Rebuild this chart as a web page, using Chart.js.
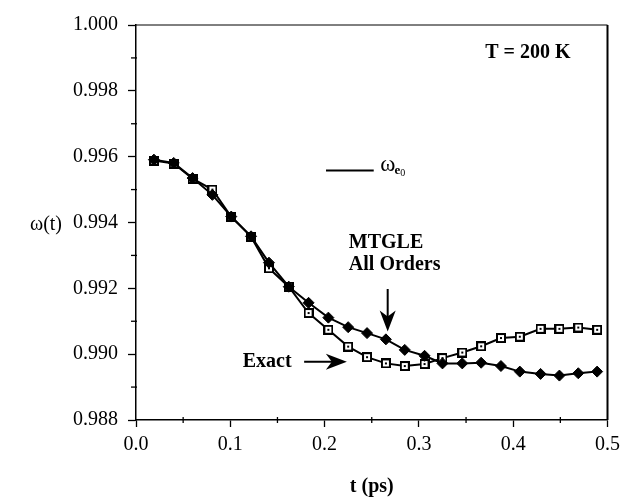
<!DOCTYPE html>
<html>
<head>
<meta charset="utf-8">
<script src="https://cdn.jsdelivr.net/npm/chart.js@4.4.0/dist/chart.umd.min.js"></script>
<style>
  html, body { margin: 0; padding: 0; background: #fff; }
</style>
</head>
<body>
<canvas id="chart" width="626" height="499"></canvas>
<script>
// t (ps) of each computed point
const times = [0.019, 0.040, 0.060, 0.081, 0.101, 0.122, 0.141, 0.162, 0.183, 0.204,
               0.225, 0.245, 0.265, 0.285, 0.306, 0.325, 0.346, 0.366, 0.387, 0.407,
               0.429, 0.449, 0.469, 0.489];
// MTGLE, all orders (filled diamonds)
const mtgle = [0.99591, 0.99581, 0.99535, 0.99484, 0.99418, 0.99358, 0.99278, 0.99205,
               0.99156, 0.99111, 0.99082, 0.99064, 0.99045, 0.99013, 0.98995, 0.98972,
               0.98972, 0.98974, 0.98964, 0.98947, 0.98940, 0.98935, 0.98942, 0.98947];
// exact (open squares)
const exact = [0.99588, 0.99579, 0.99533, 0.99500, 0.99417, 0.99357, 0.99261, 0.99205,
               0.99125, 0.99074, 0.99023, 0.98991, 0.98972, 0.98964, 0.98970, 0.98988,
               0.99005, 0.99024, 0.99049, 0.99053, 0.99077, 0.99077, 0.99081, 0.99074];

const serif = 'Liberation Serif';

function squareMarker() {
  const c = document.createElement('canvas');
  c.width = 10; c.height = 10;
  const g = c.getContext('2d');
  g.fillStyle = '#fff';
  g.fillRect(0, 0, 10, 10);
  g.strokeStyle = '#000';
  g.lineWidth = 2;
  g.strokeRect(1, 1, 8, 8);
  g.fillStyle = '#000';
  g.fillRect(4, 4, 2, 2);
  return c;
}

function pts(ys) {
  return times.map((t, i) => ({ x: t, y: ys[i] }));
}

// minor ticks half way between the major ones, plus the box and notes
const decorations = {
  id: 'decorations',
  afterDraw(chart) {
    const ctx = chart.ctx;
    const area = chart.chartArea;
    const xs = chart.scales.x, ys = chart.scales.y;
    ctx.save();
    ctx.strokeStyle = '#000';
    ctx.lineWidth = 1.3;
    const xt = xs.ticks;
    for (let i = 0; i < xt.length - 1; i++) {
      const px = xs.getPixelForValue((xt[i].value + xt[i + 1].value) / 2);
      ctx.beginPath(); ctx.moveTo(px, area.bottom - 3); ctx.lineTo(px, area.bottom + 3); ctx.stroke();
    }
    const yt = ys.ticks;
    for (let i = 0; i < yt.length - 1; i++) {
      const py = ys.getPixelForValue((yt[i].value + yt[i + 1].value) / 2);
      ctx.beginPath(); ctx.moveTo(area.left - 5, py); ctx.lineTo(area.left + 1, py); ctx.stroke();
    }
    // top and right edges of the frame
    ctx.lineWidth = 1;
    ctx.beginPath(); ctx.moveTo(area.left, area.top); ctx.lineTo(area.right, area.top); ctx.stroke();
    ctx.lineWidth = 2;
    ctx.beginPath(); ctx.moveTo(area.right, area.top); ctx.lineTo(area.right, area.bottom); ctx.stroke();

    const X = v => xs.getPixelForValue(v);
    const Y = v => ys.getPixelForValue(v);
    ctx.fillStyle = '#000';
    ctx.textBaseline = 'middle';

    ctx.font = 'bold 20px ' + serif;
    ctx.textAlign = 'center';
    ctx.fillText('T = 200 K', X(0.4156), Y(0.99916));

    ctx.textAlign = 'left';
    ctx.fillText('MTGLE', X(0.2257), Y(0.99338));
    ctx.fillText('All Orders', X(0.2257), Y(0.99271));
    ctx.textAlign = 'right';
    ctx.fillText('Exact', X(0.1650), Y(0.98977));

    // legend line for omega_e0
    ctx.lineWidth = 2;
    ctx.beginPath(); ctx.moveTo(X(0.2015), Y(0.99558)); ctx.lineTo(X(0.2521), Y(0.99558)); ctx.stroke();
    ctx.textAlign = 'left';
    ctx.font = '23px ' + serif;
    const wx = X(0.2590), wy = Y(0.99574);
    ctx.fillText('\u03c9', wx, wy);
    const ww = ctx.measureText('\u03c9').width;
    ctx.font = 'bold 13px ' + serif;
    ctx.fillText('e', wx + ww - 1, wy + 5);
    const ew = ctx.measureText('e').width;
    ctx.font = '10px ' + serif;
    ctx.fillText('0', wx + ww + ew - 1, wy + 8);

    // y axis label, horizontal
    ctx.font = '20px ' + serif;
    ctx.textAlign = 'center';
    ctx.fillText('\u03c9(t)', 46, Y(0.99394));

    // arrows
    function arrow(x0, y0, x1, y1) {
      const a = Math.atan2(y1 - y0, x1 - x0);
      const hl = 21, hw = 8;
      ctx.lineWidth = 2;
      ctx.beginPath(); ctx.moveTo(x0, y0);
      ctx.lineTo(x1 - Math.cos(a) * 8, y1 - Math.sin(a) * 8); ctx.stroke();
      ctx.beginPath();
      ctx.moveTo(x1, y1);
      ctx.lineTo(x1 - Math.cos(a) * hl - Math.sin(a) * hw, y1 - Math.sin(a) * hl + Math.cos(a) * hw);
      ctx.lineTo(x1 - Math.cos(a) * (hl - 6), y1 - Math.sin(a) * (hl - 6));
      ctx.lineTo(x1 - Math.cos(a) * hl + Math.sin(a) * hw, y1 - Math.sin(a) * hl - Math.cos(a) * hw);
      ctx.closePath(); ctx.fill();
    }
    arrow(X(0.2669), Y(0.99198), X(0.2669), Y(0.99069));
    arrow(X(0.1783), Y(0.98977), X(0.2236), Y(0.98977));
    ctx.restore();
  }
};

new Chart(document.getElementById('chart'), {
  type: 'scatter',
  data: {
    datasets: [
      {
        label: 'MTGLE All Orders',
        data: pts(mtgle),
        showLine: true,
        borderColor: '#000',
        borderWidth: 2,
        backgroundColor: '#000',
        pointStyle: 'rectRot',
        pointRadius: 5.5,
        pointBorderWidth: 1,
        order: 0
      },
      {
        label: 'Exact',
        data: pts(exact),
        showLine: true,
        borderColor: '#000',
        borderWidth: 2,
        pointStyle: squareMarker(),
        order: 1
      }
    ]
  },
  options: {
    responsive: false,
    animation: false,
    layout: { padding: { top: 25, right: 16, left: 0, bottom: 0 } },
    plugins: { legend: { display: false }, tooltip: { enabled: false } },
    scales: {
      x: {
        type: 'linear', min: 0, max: 0.5,
        ticks: { stepSize: 0.1, color: '#000', padding: 6, maxRotation: 0,
                 font: { family: serif, size: 20 }, callback: v => v.toFixed(1) },
        grid: { drawOnChartArea: false, tickLength: 7, tickColor: '#000', tickWidth: 1.3 },
        border: { color: '#000', width: 1.5 },
        title: { display: true, text: 't (ps)', color: '#000', padding: 0,
                 font: { family: serif, size: 20, weight: 'bold' } },
        afterFit: s => { s.height = 79; }
      },
      y: {
        type: 'linear', min: 0.988, max: 1.0,
        ticks: { stepSize: 0.002, color: '#000', padding: 10,
                 font: { family: serif, size: 20 }, callback: v => v.toFixed(3) },
        grid: { drawOnChartArea: false, tickLength: 8, tickColor: '#000', tickWidth: 1.3 },
        border: { color: '#000', width: 1.5 },
        afterFit: s => { s.width = 136; }
      }
    }
  },
  plugins: [decorations]
});
</script>
</body>
</html>
